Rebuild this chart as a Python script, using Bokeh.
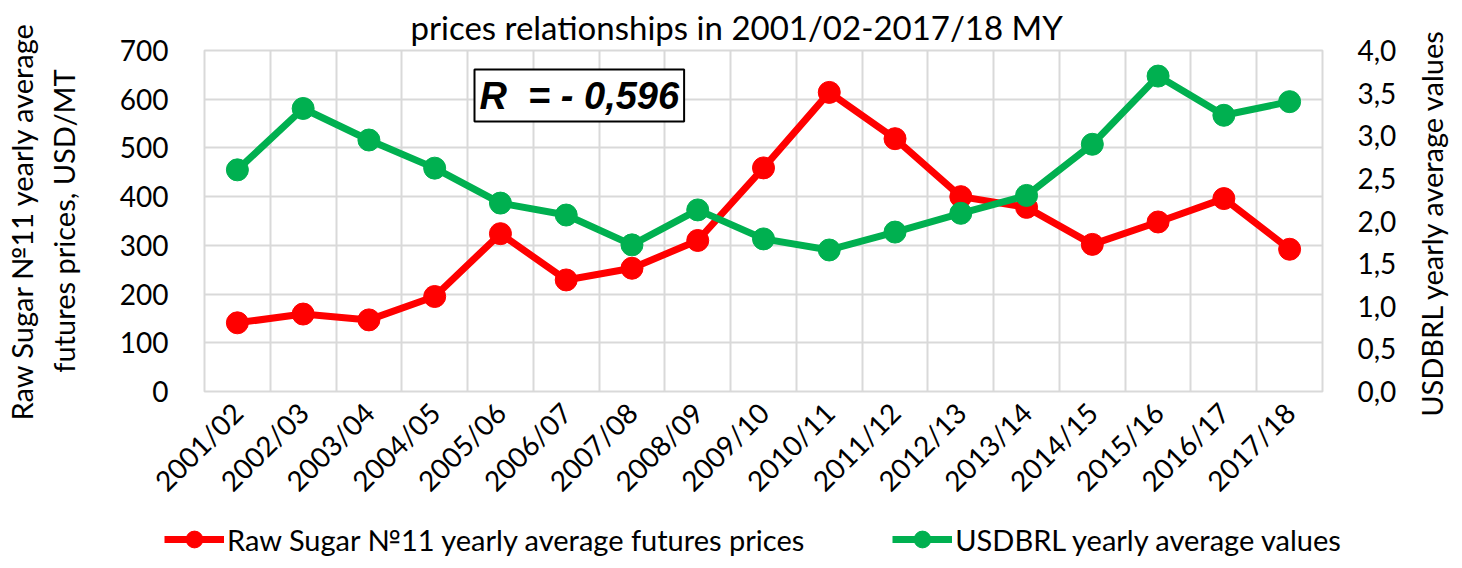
import math
from bokeh.plotting import figure
from bokeh.layouts import column, row
from bokeh.models import (Range1d, LinearAxis, FixedTicker, CustomJSTickFormatter,
                          Legend, LegendItem, Label, ColumnDataSource)
from bokeh.embed import file_html
from bokeh.resources import INLINE

# ---- data ----
seasons = ["2001/02", "2002/03", "2003/04", "2004/05", "2005/06", "2006/07", "2007/08",
           "2008/09", "2009/10", "2010/11", "2011/12", "2012/13", "2013/14", "2014/15",
           "2015/16", "2016/17", "2017/18"]
sugar_prices = [141, 159, 147, 195, 324, 229, 253, 310, 459, 614, 519, 400, 378, 302, 348, 396, 292]
usdbrl = [2.60, 3.32, 2.95, 2.62, 2.21, 2.07, 1.72, 2.13, 1.79, 1.66, 1.87, 2.09, 2.30, 2.90, 3.70, 3.24, 3.40]
left_ticks = [0, 100, 200, 300, 400, 500, 600, 700]
right_ticks = [0.0, 0.5, 1.0, 1.5, 2.0, 2.5, 3.0, 3.5, 4.0]
title_text = "prices relationships in 2001/02-2017/18 MY"
left_label = "Raw Sugar №11 yearly average\nfutures prices, USD/MT"
right_label = "USDBRL yearly average values"
sugar_name = "Raw Sugar №11 yearly average futures prices"
brl_name = "USDBRL yearly average values"
r_text = "R \u00a0= - 0,596"

n = len(seasons)
xs = [i + 0.5 for i in range(n)]
src = ColumnDataSource(dict(x=xs, sugar=sugar_prices, brl=usdbrl))

FONT = "Lato"
FS = "28px"
LFS = "29px"
RED = "#FF0000"
GREEN = "#00B050"
GRID = "#D9D9D9"
W = 1454
W_MAIN = 1400
H_MAIN = 512
H_LEG = 48
TOP, BOTTOM = 50, H_MAIN - 398

def no_align(fig):
    try:
        fig.frame_align = False
    except Exception:
        pass

p = figure(width=W_MAIN, height=H_MAIN, output_backend="svg", toolbar_location=None,
           x_range=Range1d(0, n), y_range=Range1d(left_ticks[0], left_ticks[-1]),
           min_border_left=192, min_border_right=W_MAIN - 1322, min_border_top=TOP,
           min_border_bottom=BOTTOM,
           background_fill_color="white", border_fill_color="white")
p.extra_y_ranges = {"right": Range1d(right_ticks[0], right_ticks[-1])}

p.outline_line_color = GRID
p.outline_line_width = 2

# title
p.title.text = title_text
p.title.align = "left"
p.title.offset = 206
p.title.standoff = 8
p.title.text_font = FONT
p.title.text_font_size = "33px"
p.title.text_font_style = "normal"
p.title.text_color = "black"

# grids
p.xgrid.ticker = FixedTicker(ticks=list(range(n + 1)))
p.xgrid.grid_line_color = GRID
p.xgrid.grid_line_width = 2
p.ygrid.ticker = FixedTicker(ticks=left_ticks)
p.ygrid.grid_line_color = GRID
p.ygrid.grid_line_width = 2

# x axis
xa = p.xaxis[0]
xa.ticker = FixedTicker(ticks=xs)
xa.formatter = CustomJSTickFormatter(args=dict(cats=seasons),
    code="const i = Math.floor(tick); return (i >= 0 && i < cats.length) ? cats[i] : '';")
xa.major_label_orientation = math.pi / 4
xa.major_label_standoff = 10
xa.axis_line_color = None
xa.major_tick_line_color = None
xa.minor_tick_line_color = None
xa.major_label_text_font = FONT
xa.major_label_text_font_size = FS
xa.major_label_text_color = "black"

# left axis
ya = p.yaxis[0]
ya.ticker = FixedTicker(ticks=left_ticks)
ya.axis_line_color = None
ya.major_tick_line_color = None
ya.minor_tick_line_color = None
ya.major_label_standoff = 30
ya.major_label_text_font = FONT
ya.major_label_text_font_size = FS
ya.major_label_text_color = "black"
ya.axis_label = left_label
ya.axis_label_text_font = FONT
ya.axis_label_text_font_size = LFS
ya.axis_label_text_font_style = "normal"
ya.axis_label_text_color = "black"
ya.axis_label_standoff = 36

# right axis (ticks only; its title is drawn in the narrow strip to the right)
ra = LinearAxis(y_range_name="right", ticker=FixedTicker(ticks=right_ticks),
                formatter=CustomJSTickFormatter(code="return tick.toFixed(1).replace('.', ',');"))
ra.axis_line_color = None
ra.major_tick_line_color = None
ra.minor_tick_line_color = None
ra.major_label_standoff = 29
ra.major_label_text_font = FONT
ra.major_label_text_font_size = FS
ra.major_label_text_color = "black"
p.add_layout(ra, "right")

# series
l1 = p.line("x", "sugar", source=src, line_color=RED, line_width=7)
s1 = p.scatter("x", "sugar", source=src, size=22, fill_color=RED, line_color=RED)
l2 = p.line("x", "brl", source=src, line_color=GREEN, line_width=7, y_range_name="right")
s2 = p.scatter("x", "brl", source=src, size=22, fill_color=GREEN, line_color=GREEN, y_range_name="right")

# correlation box
p.add_layout(Label(x=270, y=270, x_units="screen", y_units="screen", text=r_text,
                   text_align="left", text_baseline="bottom", padding=5,
                   text_font="Liberation Sans", text_font_size="38px",
                   text_font_style="bold italic", text_color="black",
                   background_fill_color="white", border_line_color="black", border_line_width=2))

# right axis title strip
W_R = W - W_MAIN
rfig = figure(width=W_R, height=H_MAIN, output_backend="svg", toolbar_location=None, title=None,
              x_range=Range1d(0, 1), y_range=Range1d(0, 1), x_axis_type=None, y_axis_type=None,
              min_border=0, min_border_left=0, min_border_right=0, min_border_top=0,
              min_border_bottom=0,
              background_fill_color="white", border_fill_color="white")
no_align(rfig)
rfig.outline_line_color = None
rfig.grid.visible = False
rfig.add_layout(Label(x=W_R // 2 + 4, y=H_MAIN - 222, x_units="screen", y_units="screen",
                      text=right_label, angle=math.pi / 2, text_align="center",
                      text_baseline="middle", text_font=FONT, text_font_size=LFS,
                      text_color="black"))

# legend strip below the chart
q = figure(width=W, height=H_LEG, output_backend="svg", toolbar_location=None, title=None,
           x_range=Range1d(0, 1), y_range=Range1d(0, 1), x_axis_type=None, y_axis_type=None,
           min_border=0, min_border_left=0, min_border_right=0, min_border_top=0, min_border_bottom=0,
           background_fill_color="white", border_fill_color="white")
no_align(q)
q.outline_line_color = None
q.grid.visible = False
# one real value per series gives the legend something to draw; it lies outside this strip's view
leg_src = ColumnDataSource(dict(x=[xs[0]], sugar=[sugar_prices[0]], brl=[usdbrl[0] + 10]))
ql1 = q.line("x", "sugar", source=leg_src, line_color=RED, line_width=7)
qs1 = q.scatter("x", "sugar", source=leg_src, size=22, fill_color=RED, line_color=RED)
ql2 = q.line("x", "brl", source=leg_src, line_color=GREEN, line_width=7)
qs2 = q.scatter("x", "brl", source=leg_src, size=22, fill_color=GREEN, line_color=GREEN)
legend = Legend(items=[LegendItem(label=sugar_name, renderers=[ql1, qs1]),
                       LegendItem(label=brl_name, renderers=[ql2, qs2])],
                orientation="horizontal", location=(164, 0),
                glyph_width=60, glyph_height=42, label_standoff=3, spacing=88,
                padding=0, margin=0, border_line_color=None, background_fill_alpha=0,
                label_text_font=FONT, label_text_font_size="29px", label_text_color="black")
q.add_layout(legend, "center")

layout = column(row(p, rfig, spacing=0), q, spacing=0)
open("out.html", "w").write(file_html(layout, INLINE))
